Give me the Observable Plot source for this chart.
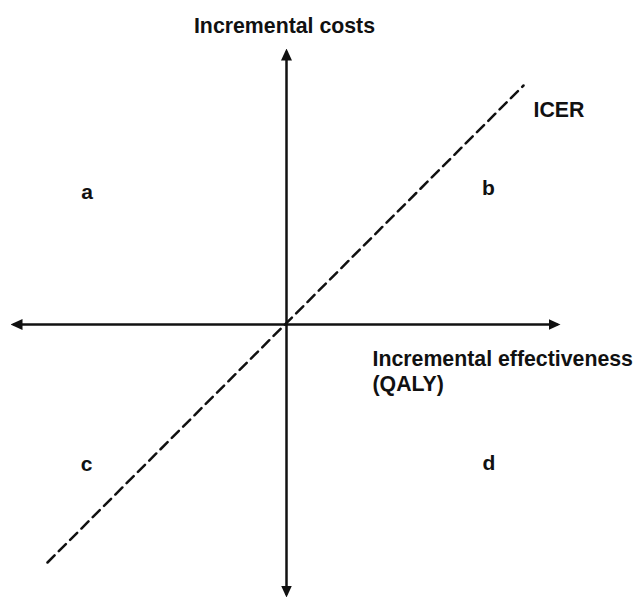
<!DOCTYPE html>
<html>
<head>
<meta charset="utf-8">
<script src="https://cdn.jsdelivr.net/npm/d3@7"></script>
<script src="https://cdn.jsdelivr.net/npm/@observablehq/plot@0.6"></script>
<style>
  html, body { margin: 0; padding: 0; background: #fff; }
</style>
</head>
<body>
<div id="chart"></div>
<script>
// Cost-effectiveness plane (arbitrary units, origin = 0,0)
const effectivenessExtent = [-273, 271];   // horizontal axis (line ends; arrow tips add 3)
const costExtent = [-270, 273];            // vertical axis
const icerLine = [ { e: -239, c: -238 }, { e: 237, c: 239 } ];

const quadrantLabels = ["a", "b", "c", "d"];
const quadrantE = [-199.3, 202, -200, 202.3];
const quadrantC = [132.7, 136.2, -139.8, -138.3];

const axisTitles = ["Incremental costs", "Incremental effectiveness\n(QALY)", "ICER"];
const axisTitleE = [-2, 86, 247];
const axisTitleC = [299.7, -45.8, 215.7];
const axisTitleAnchor = ["middle", "start", "start"];

const axes = [
  { x1: effectivenessExtent[0], y1: 0, x2: effectivenessExtent[1], y2: 0 },
  { x1: 0, y1: costExtent[0], x2: 0, y2: costExtent[1] }
];
const quad = quadrantLabels.map((t, i) => ({ t, e: quadrantE[i], c: quadrantC[i] }));
const titles = axisTitles.map((t, i) => ({ t, e: axisTitleE[i], c: axisTitleC[i], a: axisTitleAnchor[i] }));

const ink = "#111";
const font = "'Liberation Sans', Arial, Helvetica, sans-serif";

const plot = Plot.plot({
  width: 643,
  height: 597,
  margin: 0,
  x: { type: "linear", domain: [-276, 274], range: [10, 560], axis: null },
  y: { type: "linear", domain: [-273, 276], range: [597, 48], axis: null },
  style: { background: "#fff", fontFamily: font },
  marks: [
    Plot.line(icerLine, { x: "e", y: "c", stroke: ink, strokeWidth: 2.5, strokeDasharray: "10,6" }),
    Plot.link(axes, { x1: "x1", y1: "y1", x2: "x2", y2: "y2", stroke: ink, strokeWidth: 2.5 }),
    Plot.text(quad, { x: "e", y: "c", text: "t", fontSize: 21, fontWeight: "bold", fill: ink, textAnchor: "middle" }),
    ...titles.map(d => Plot.text([d], { x: "e", y: "c", text: "t", fontSize: 21.3, fontWeight: "bold", fill: ink, textAnchor: d.a, lineHeight: 25 / 21.3 }))
  ]
});

// filled triangular arrowheads on both ends of each axis
const svg = d3.select(plot);
const defs = svg.insert("defs", ":first-child");
defs.append("marker")
  .attr("id", "tri")
  .attr("markerUnits", "userSpaceOnUse")
  .attr("viewBox", "0 -6 12 12")
  .attr("markerWidth", 12)
  .attr("markerHeight", 12)
  .attr("refX", 9)
  .attr("refY", 0)
  .attr("orient", "auto-start-reverse")
  .append("path")
  .attr("d", "M0,-5.5L12,0L0,5.5Z")
  .attr("fill", ink);
svg.selectAll("g[aria-label='link'] path, g[aria-label='link'] line")
  .attr("marker-start", "url(#tri)")
  .attr("marker-end", "url(#tri)");

document.getElementById("chart").appendChild(plot);
</script>
</body>
</html>
